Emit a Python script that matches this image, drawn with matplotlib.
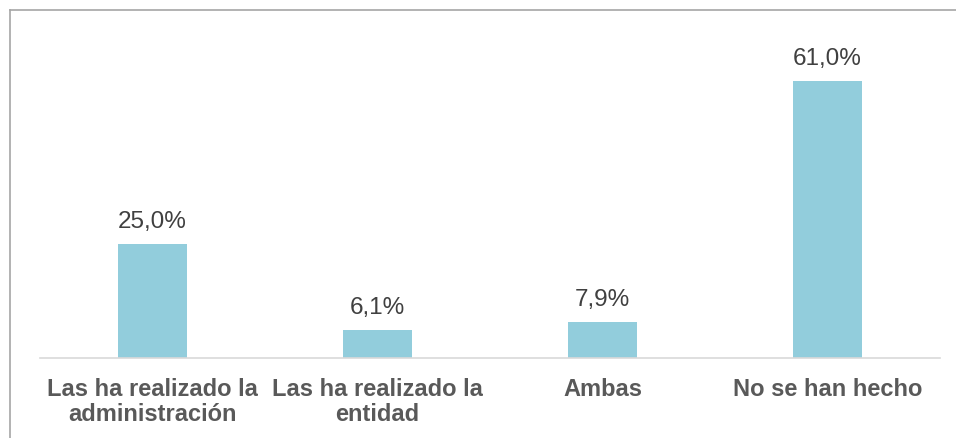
import matplotlib.pyplot as plt
import matplotlib

matplotlib.rcParams['font.family'] = ['Liberation Sans', 'DejaVu Sans']

categorias = ['Las ha realizado la\nadministración', 'Las ha realizado la\nentidad', 'Ambas', 'No se han hecho']
valores = [25.0, 6.1, 7.9, 61.0]
etiquetas = ['25,0%', '6,1%', '7,9%', '61,0%']

fig = plt.figure(figsize=(9.56, 4.39), dpi=100)
ax = fig.add_axes([40/956, 80/439, 900/956, 318/439])

x = list(range(len(valores)))
barras = ax.bar(x, valores, width=0.31, color='#92CDDC')

ax.set_xlim(-0.5, 3.5)
ax.set_ylim(0, 70)

for i, rect in enumerate(barras):
    ax.annotate(etiquetas[i], (rect.get_x() + rect.get_width()/2, rect.get_height()),
                xytext=(0, 12), textcoords='offset pixels', ha='center', va='bottom',
                fontsize=17.5, color='#404040')

ax.set_xticks(x)
ax.set_xticklabels(categorias, fontsize=17, fontweight='bold', color='#595959', linespacing=1.1)
ax.tick_params(axis='x', length=0, pad=14)
ax.set_yticks([])

for s in ['top', 'right', 'left']:
    ax.spines[s].set_visible(False)
ax.spines['bottom'].set_color('#d9d9d9')
ax.spines['bottom'].set_linewidth(1.2)

# borde del grafico (solo arriba e izquierda visibles)
fig.add_artist(plt.Line2D([9.5/956, 1], [1 - 11/439, 1 - 11/439], color='#a6a6a6', lw=1.2))
fig.add_artist(plt.Line2D([9.5/956, 9.5/956], [0, 1 - 11/439], color='#a6a6a6', lw=1.2))

plt.savefig('out.png', dpi=100)
